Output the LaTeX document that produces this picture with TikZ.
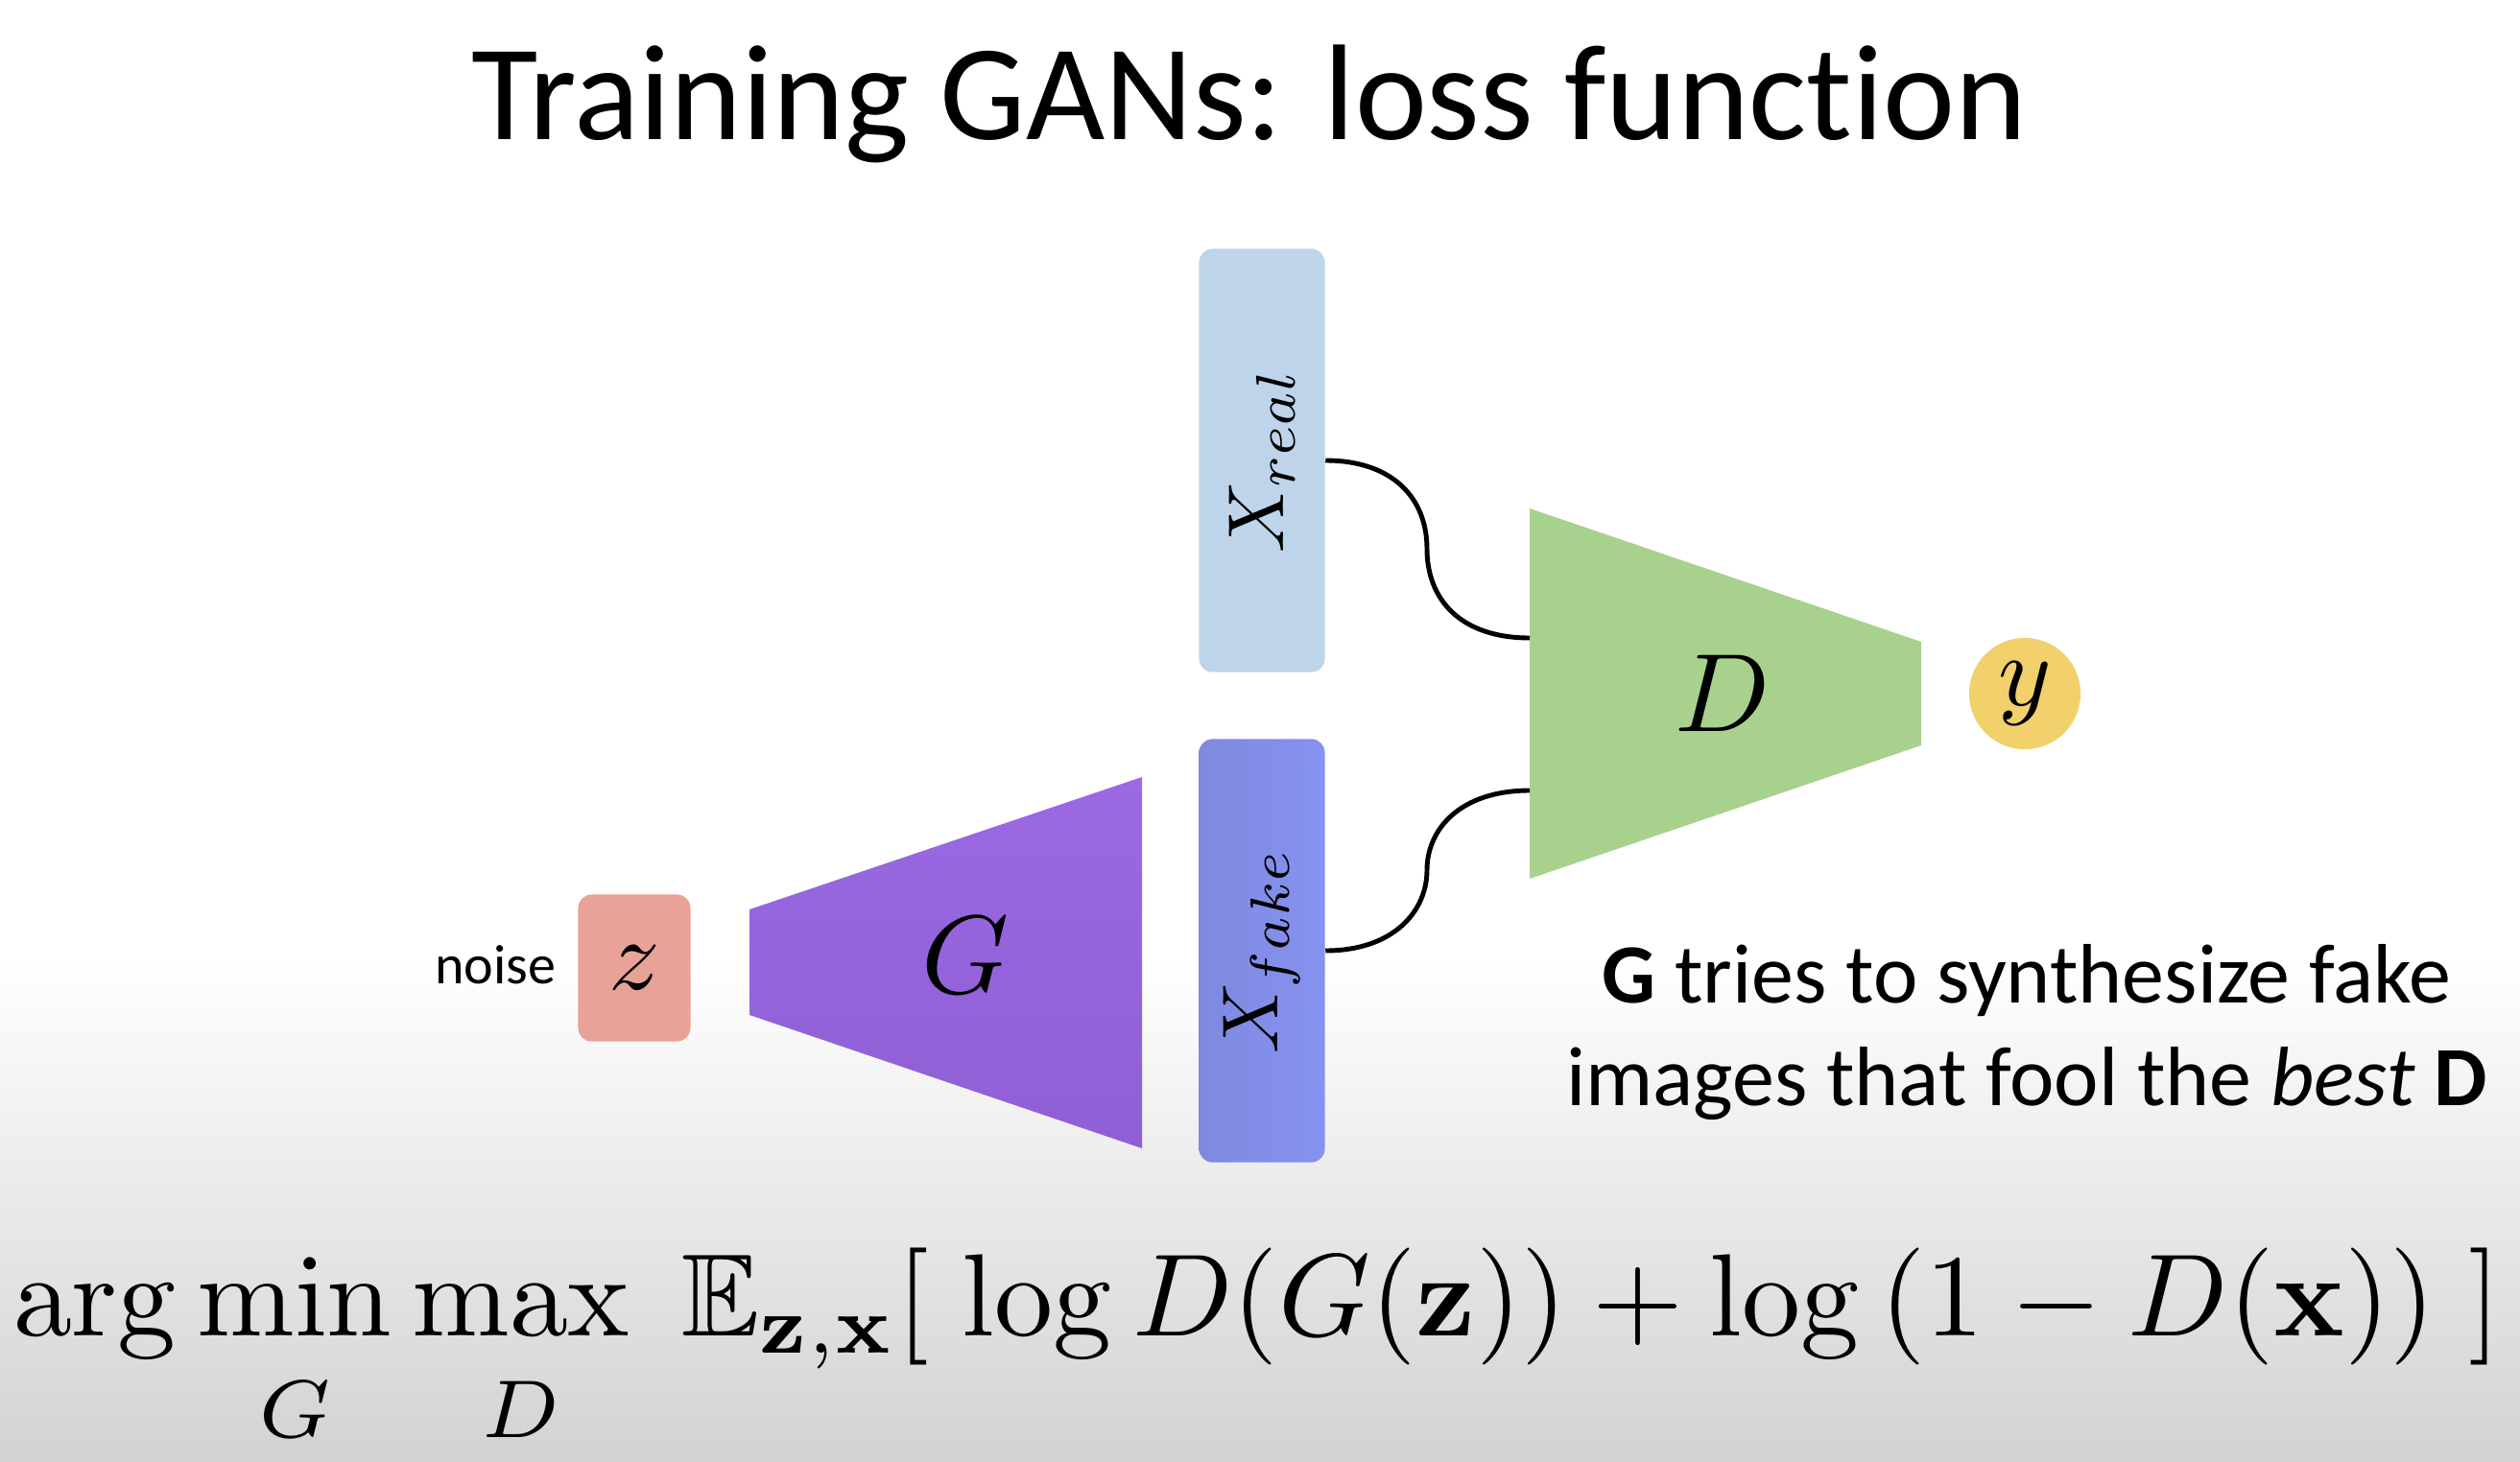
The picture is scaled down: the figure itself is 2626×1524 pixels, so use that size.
\documentclass[tikz,border=0pt]{standalone}
\usepackage{amsmath,amssymb}
\usepackage{graphicx}
\usepackage[no-math]{fontspec}
\newfontfamily\gill[Ligatures=NoCommon]{Carlito}
\usetikzlibrary{calc}
\definecolor{xrealc}{HTML}{BDD4EA}
\definecolor{xfaketop}{HTML}{8692F0}
\definecolor{xfakebot}{HTML}{7E89DF}
\definecolor{dgreen}{HTML}{A9D18E}
\definecolor{gtop}{HTML}{9B69E3}
\definecolor{gbot}{HTML}{8F5FD5}
\definecolor{zc}{HTML}{E8A298}
\definecolor{yc}{HTML}{F2D06B}
\definecolor{bggray}{HTML}{D2D2D2}
\tikzset{
  xbox/.style={rounded corners=0.14cm, inner sep=0pt, minimum width=4.41cm, minimum height=1.31cm, rotate=90},
  mathlbl/.style={inner sep=0pt},
  conn/.style={line width=1.4pt, black},
  gilltext/.style={inner sep=0pt, font=\gill\fontsize{25}{30}\selectfont}
}
\begin{document}
\begin{tikzpicture}[x=0.01cm,y=-0.01cm]
\useasboundingbox (0,0) rectangle (2626,1524);
\fill[white] (0,0) rectangle (2626,1000);
\shade[top color=white, bottom color=bggray] (0,1000) rectangle (2626,1524);
% title
\node[inner sep=0pt, anchor=base, font=\gill\fontsize{40.4}{48}\selectfont] (title) at (1302,146) {Training GANs: loss function};
% real and fake boxes
\node[xbox, fill=xrealc] (xreal) at (1315,480) {\scalebox{2.35}{$X_{real}$}};
\node[xbox, left color=xfakebot, right color=xfaketop] (xfake) at (1315,991) {\scalebox{2.35}{$X_{fake}$}};
% discriminator
\coordinate (d1) at (1594,530);
\coordinate (d2) at (2002,669);
\coordinate (d3) at (2002,777);
\coordinate (d4) at (1594,916);
\fill[dgreen] (d1) -- (d2) -- (d3) -- (d4) -- cycle;
\node[mathlbl] (dlbl) at (1795,723) {\scalebox{3.3}{$D$}};
\coordinate (din1) at (1594,665);
\coordinate (din2) at (1594,824);
% output
\node[circle, fill=yc, minimum size=1.16cm, inner sep=0pt] (yout) at (2110,723) {\scalebox{3.0}{$y$}};
% generator
\coordinate (g1) at (781,948);
\coordinate (g2) at (1190,810);
\coordinate (g3) at (1190,1197);
\coordinate (g4) at (781,1058);
\shade[top color=gtop, bottom color=gbot] (g1) -- (g2) -- (g3) -- (g4) -- cycle;
\node[mathlbl] (glbl) at (1006,996) {\scalebox{3.3}{$G$}};
% noise
\node[rounded corners=0.14cm, fill=zc, minimum width=1.17cm, minimum height=1.53cm, inner sep=0pt] (z) at (661,1009) {\scalebox{3.0}{$z$}};
\node[inner sep=0pt, anchor=east, font=\gill\fontsize{16.5}{20}\selectfont] (noise) at (580,1006) {noise};
% connectors
\draw[conn] (xreal.south) .. controls (1452,480) and (1487,520) .. (1487,572)
            .. controls (1487,625) and (1522,665) .. (din1);
\draw[conn] (xfake.south) .. controls (1452,991) and (1487,950) .. (1487,907)
            .. controls (1487,864) and (1522,824) .. (din2);
% caption
\node[gilltext, anchor=base] (cap1) at (2112,1045) {\textbf{G} tries to synthesize fake};
\node[gilltext, anchor=base] (cap2) at (2112,1152) {images that fool the \textit{best} \textbf{D}};
% formula
\node[inner sep=0pt, anchor=base] (loss) at (1310,1392)
  {\scalebox{3.47}{$\displaystyle \arg\min_{\rule{0pt}{7.1pt}G}\max_{\rule{0pt}{7.1pt}D}\;\mathbb{E}_{\mathbf{z},\mathbf{x}}[\;\log D(G(\mathbf{z}))+\log\,(1-D(\mathbf{x}))\;]$}};
\end{tikzpicture}
\end{document}
